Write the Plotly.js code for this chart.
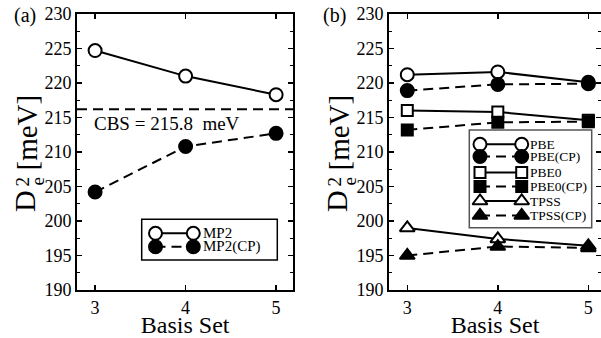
<!DOCTYPE html>
<html>
<head>
<meta charset="utf-8">
<script src="https://cdn.plot.ly/plotly-3.0.1.min.js"></script>
<style>html,body{margin:0;padding:0;background:#fff;}#chart{width:601px;height:338px;}</style>
</head>
<body>
<div id="chart"></div>
<script>
// ---- data ----
const basis = [3, 4, 5];
const mp2 = [224.7, 221.0, 218.3];
const mp2CP = [204.2, 210.8, 212.7];
const cbsLineValue = 216.2;
const cbsLabel = 'CBS = 215.8  meV';
const pbe = [221.2, 221.6, 220.1];
const pbeCP = [218.9, 219.8, 219.9];
const pbe0 = [216.0, 215.8, 214.6];
const pbe0CP = [213.2, 214.3, 214.4];
const tpss = [199.0, 197.4, 196.4];
const tpssCP = [195.0, 196.3, 196.1];
const yTicks = [190, 195, 200, 205, 210, 215, 220, 225, 230];

// ---- styles ----
const FONT = 'Liberation Serif';
const DASH = '10px,6px';
function series(name, x, y, ax, symbol, filled, dashed, size) {
  return {
    type: 'scatter', mode: 'lines+markers', name: name,
    x: x, y: y, xaxis: ax[0], yaxis: ax[1],
    line: {color: 'black', width: 2, dash: dashed ? DASH : 'solid'},
    marker: {symbol: symbol, size: size, color: filled ? 'black' : 'white',
             line: {color: 'black', width: 2}},
    showlegend: false, cliponaxis: false
  };
}
const A = ['x', 'y'], B = ['x2', 'y2'];

const traces = [
  series('MP2', basis, mp2, A, 'circle', false, false, 13),
  series('MP2(CP)', basis, mp2CP, A, 'circle', true, true, 13),
  series('PBE', basis, pbe, B, 'circle', false, false, 13),
  series('PBE(CP)', basis, pbeCP, B, 'circle', true, true, 13),
  series('PBE0', basis, pbe0, B, 'square', false, false, 11),
  series('PBE0(CP)', basis, pbe0CP, B, 'square', true, true, 11),
  series('TPSS', basis, tpss, B, 'triangle-up', false, false, 13),
  series('TPSS(CP)', basis, tpssCP, B, 'triangle-up', true, true, 13)
];

// ---- hand-drawn legends (pixel overlay axes) ----
const legA = {x0: 155.5, x1: 193.3, tx: 201, fs: 15, rows: [233.3, 246.7], idx: [0, 1]};
const legB = {x0: 480, x1: 521.7, tx: 527.5, fs: 13.5, rows: [144.3, 156.5, 172.5, 186.5, 201, 215.5], idx: [2, 3, 4, 5, 6, 7]};
const annotations = [];
[legA, legB].forEach(function (lg) {
  lg.idx.forEach(function (ti, r) {
    const src = traces[ti];
    const t = JSON.parse(JSON.stringify(src));
    t.x = [lg.x0, lg.x1]; t.y = [lg.rows[r], lg.rows[r]];
    t.xaxis = 'x3'; t.yaxis = 'y3';
    traces.push(t);
    annotations.push({xref: 'x3', yref: 'y3', x: lg.tx, y: lg.rows[r], text: src.name,
      showarrow: false, xanchor: 'left', yanchor: 'middle',
      font: {family: FONT, size: lg.fs, color: 'black'}});
  });
});

function txt(x, y, text, size, opts) {
  return Object.assign({xref: 'x3', yref: 'y3', x: x, y: y, text: text, showarrow: false,
    xanchor: 'center', yanchor: 'middle', font: {family: FONT, size: size, color: 'black'}}, opts || {});
}
annotations.push(
  {xref: 'x domain', yref: 'y', x: 0.07, y: 214.2, text: cbsLabel, showarrow: false,
   xanchor: 'left', yanchor: 'middle', font: {family: FONT, size: 19, color: 'black'}},
  txt(25, 15, '(a)', 20),
  txt(334, 15, '(b)', 20),
  // y-axis titles: D with stacked sub/superscript, then [meV]
  txt(24, 201, 'D', 30, {textangle: -90}),
  txt(37, 181.5, 'e', 19, {textangle: -90}),
  txt(22, 181.5, '2', 19, {textangle: -90}),
  txt(26, 132.5, '[meV]', 29, {textangle: -90}),
  txt(24 + 312, 201, 'D', 30, {textangle: -90}),
  txt(37 + 312, 181.5, 'e', 19, {textangle: -90}),
  txt(22 + 312, 181.5, '2', 19, {textangle: -90}),
  txt(26 + 312, 132.5, '[meV]', 29, {textangle: -90})
);

function yax(anchor) {
  return {
    anchor: anchor, range: [190, 230], tickvals: yTicks, ticks: 'inside', ticklen: 5,
    tickwidth: 1.5, tickcolor: 'black', showline: true, linecolor: 'black', linewidth: 2,
    mirror: 'allticks', showgrid: false, zeroline: false,
    minor: {ticks: 'inside', ticklen: 3, tickwidth: 1, dtick: 2.5, tick0: 190, tickcolor: 'black', showgrid: false},
    tickfont: {family: FONT, size: 18, color: 'black'}
  };
}
function xax(anchor, domain, range) {
  return {
    anchor: anchor, domain: domain, range: range, tickvals: basis, ticks: 'inside', ticklen: 5,
    tickwidth: 1.5, tickcolor: 'black', showline: true, linecolor: 'black', linewidth: 2,
    mirror: 'allticks', showgrid: false, zeroline: false,
    tickfont: {family: FONT, size: 18, color: 'black'},
    title: {text: 'Basis Set', font: {family: FONT, size: 24, color: 'black'}, standoff: 3}
  };
}

const layout = {
  width: 601, height: 338,
  margin: {l: 0, r: 0, t: 14, b: 48, pad: 0},
  paper_bgcolor: 'white', plot_bgcolor: 'rgba(0,0,0,0)',
  font: {family: FONT, color: 'black'},
  showlegend: false,
  xaxis: xax('y', [77 / 601, 293.3 / 601], [2.8, 5.19]),
  yaxis: yax('x'),
  xaxis2: xax('y2', [389 / 601, 1], [2.798, 5.14]),
  yaxis2: yax('x2'),
  xaxis3: {domain: [0, 1], range: [0, 601], visible: false, anchor: 'y3', fixedrange: true},
  yaxis3: {domain: [0, 1], range: [290, 14], visible: false, anchor: 'x3', fixedrange: true},
  shapes: [
    {type: 'line', xref: 'x domain', yref: 'y', x0: 0, x1: 1, y0: cbsLineValue, y1: cbsLineValue,
     line: {color: 'black', width: 2, dash: DASH}},
    {type: 'rect', xref: 'x3', yref: 'y3', x0: 141.7, x1: 277.3, y0: 219.3, y1: 260,
     line: {color: 'black', width: 1.5}},
    {type: 'rect', xref: 'x3', yref: 'y3', x0: 469.3, x1: 591.7, y0: 130, y1: 227.7,
     line: {color: '#555', width: 1.5}}
  ],
  annotations: annotations
};

Plotly.newPlot('chart', traces, layout, {staticPlot: true, displayModeBar: false});
</script>
</body>
</html>
